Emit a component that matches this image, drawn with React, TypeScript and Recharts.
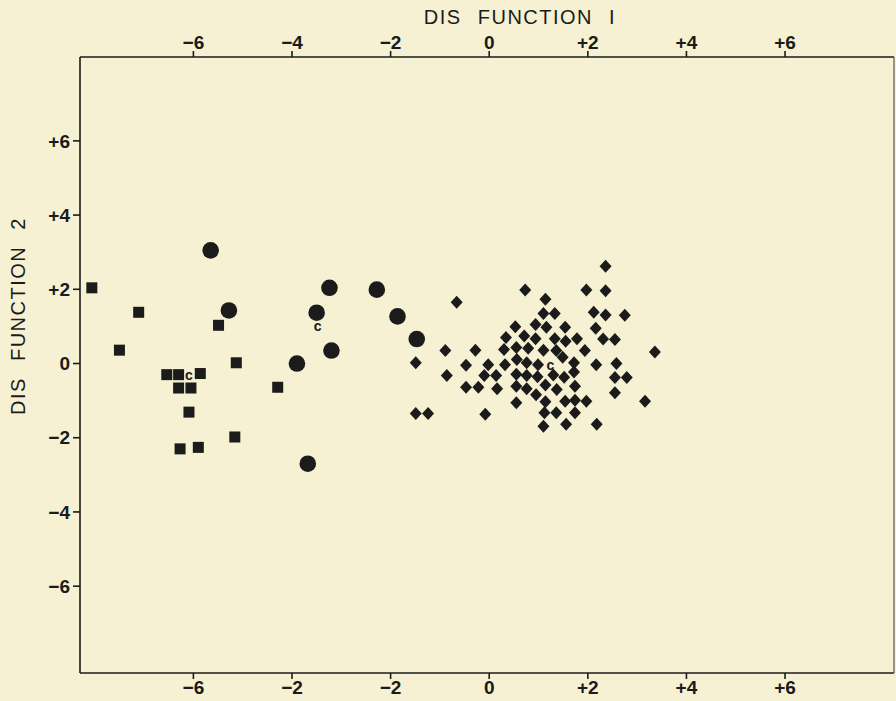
import { ScatterChart, Scatter, XAxis, YAxis } from 'recharts';

// group 1 (squares)
const squarePoints = [
  { x: -8.06, y: 2.04 },
  { x: -7.11, y: 1.38 },
  { x: -7.5, y: 0.36 },
  { x: -5.49, y: 1.03 },
  { x: -5.13, y: 0.02 },
  { x: -6.54, y: -0.3 },
  { x: -6.3, y: -0.3 },
  { x: -5.86, y: -0.27 },
  { x: -6.3, y: -0.66 },
  { x: -6.05, y: -0.66 },
  { x: -6.09, y: -1.31 },
  { x: -6.27, y: -2.3 },
  { x: -5.9, y: -2.26 },
  { x: -5.16, y: -1.98 },
  { x: -4.29, y: -0.64 },
];

// group 2 (circles)
const circlePoints = [
  { x: -5.65, y: 3.05 },
  { x: -5.28, y: 1.43 },
  { x: -3.24, y: 2.04 },
  { x: -3.5, y: 1.37 },
  { x: -3.2, y: 0.35 },
  { x: -3.9, y: 0.0 },
  { x: -3.68, y: -2.7 },
  { x: -2.28, y: 1.99 },
  { x: -1.86, y: 1.27 },
  { x: -1.47, y: 0.66 },
];

// group 3 (diamonds)
const diamondPoints = [
  { x: 2.36, y: 2.62 },
  { x: 0.73, y: 1.98 },
  { x: 1.97, y: 1.98 },
  { x: 2.36, y: 1.96 },
  { x: 1.14, y: 1.73 },
  { x: -0.66, y: 1.65 },
  { x: 1.1, y: 1.35 },
  { x: 1.33, y: 1.35 },
  { x: 2.12, y: 1.38 },
  { x: 2.36, y: 1.31 },
  { x: 2.75, y: 1.3 },
  { x: 0.94, y: 1.05 },
  { x: 0.53, y: 0.99 },
  { x: 1.16, y: 0.98 },
  { x: 1.54, y: 0.98 },
  { x: 2.16, y: 0.95 },
  { x: 0.71, y: 0.74 },
  { x: 0.34, y: 0.7 },
  { x: 0.94, y: 0.67 },
  { x: 1.33, y: 0.67 },
  { x: 1.55, y: 0.6 },
  { x: 1.78, y: 0.67 },
  { x: 2.31, y: 0.66 },
  { x: 2.55, y: 0.65 },
  { x: 0.55, y: 0.43 },
  { x: 0.79, y: 0.41 },
  { x: 1.1, y: 0.36 },
  { x: 1.36, y: 0.35 },
  { x: 0.3, y: 0.38 },
  { x: 1.94, y: 0.35 },
  { x: -0.89, y: 0.35 },
  { x: -0.28, y: 0.36 },
  { x: 3.36, y: 0.31 },
  { x: -1.49, y: 0.02 },
  { x: -0.47, y: -0.05 },
  { x: -0.02, y: -0.03 },
  { x: 0.32, y: -0.03 },
  { x: 0.56, y: 0.11 },
  { x: 0.76, y: 0.02 },
  { x: 0.99, y: -0.03 },
  { x: 1.49, y: 0.17 },
  { x: 1.72, y: 0.02 },
  { x: 2.17, y: -0.03 },
  { x: 2.58, y: 0.0 },
  { x: -0.86, y: -0.32 },
  { x: -0.1, y: -0.32 },
  { x: 0.14, y: -0.32 },
  { x: 0.55, y: -0.29 },
  { x: 0.76, y: -0.32 },
  { x: 0.98, y: -0.36 },
  { x: 1.3, y: -0.31 },
  { x: 1.52, y: -0.37 },
  { x: 1.72, y: -0.23 },
  { x: 2.55, y: -0.38 },
  { x: 2.79, y: -0.38 },
  { x: -0.47, y: -0.64 },
  { x: -0.22, y: -0.64 },
  { x: 0.16, y: -0.68 },
  { x: 0.55, y: -0.61 },
  { x: 0.76, y: -0.68 },
  { x: 1.14, y: -0.58 },
  { x: 1.37, y: -0.7 },
  { x: 1.74, y: -0.61 },
  { x: 2.55, y: -0.79 },
  { x: 0.95, y: -0.84 },
  { x: 0.55, y: -1.06 },
  { x: 1.14, y: -1.03 },
  { x: 1.54, y: -1.02 },
  { x: 1.74, y: -0.99 },
  { x: 1.97, y: -1.02 },
  { x: 3.16, y: -1.02 },
  { x: -1.49, y: -1.35 },
  { x: -1.24, y: -1.35 },
  { x: -0.08, y: -1.37 },
  { x: 1.12, y: -1.33 },
  { x: 1.36, y: -1.33 },
  { x: 1.74, y: -1.33 },
  { x: 1.1, y: -1.69 },
  { x: 1.56, y: -1.64 },
  { x: 2.18, y: -1.64 },
];

// group centroids, marked "c"
const centroids = [
  { x: -6.09, y: -0.3 },
  { x: -3.48, y: 1.02 },
  { x: 1.24, y: -0.03 },
];

const axisTicks = [-6, -4, -2, 0, 2, 4, 6];
// the printed bottom scale really reads -6, -2, -2 ...
const bottomTickLabels = ['\u22126', '\u22122', '\u22122', '0', '+2', '+4', '+6'];

const xDomain = [-8.3, 8.21];
const yDomain = [-8.34, 8.26];

const ink = '#1b1b1b';
const paper = '#f6f1d2';
const font = '"Liberation Sans", Arial, sans-serif';

function signed(v: number): string {
  if (v > 0) return `+${v}`;
  if (v < 0) return `\u2212${Math.abs(v)}`;
  return '0';
}

const tickStyle = { fill: ink, fontSize: 19, fontWeight: 700, fontFamily: font };

function SquareMark(props: any) {
  const { cx, cy } = props;
  return <rect x={cx - 5.5} y={cy - 5.5} width={11} height={11} fill={ink} />;
}

function CircleMark(props: any) {
  const { cx, cy } = props;
  return <circle cx={cx} cy={cy} r={8.3} fill={ink} />;
}

function DiamondMark(props: any) {
  const { cx, cy } = props;
  const w = 6;
  const h = 6.5;
  return <polygon points={`${cx},${cy - h} ${cx + w},${cy} ${cx},${cy + h} ${cx - w},${cy}`} fill={ink} />;
}

function CentroidMark(props: any) {
  const { cx, cy } = props;
  return (
    <text x={cx} y={cy + 5} textAnchor="middle" fontSize={14} fontWeight={700} fontFamily={font} fill={ink}>
      c
    </text>
  );
}

const titleStyle = {
  position: 'absolute' as const,
  fontFamily: font,
  fontSize: 20,
  lineHeight: '20px',
  letterSpacing: 1.5,
  wordSpacing: 9,
  color: ink,
  textAlign: 'center' as const,
  whiteSpace: 'pre' as const,
};

export default function App() {
  return (
    <div style={{ position: 'absolute', left: 0, top: 0, width: 896, height: 701, background: paper, overflow: 'hidden' }}>
      <div style={{ ...titleStyle, left: 370, top: 7, width: 300 }}>DIS FUNCTION I</div>
      <div style={{ ...titleStyle, left: -92, top: 306, width: 220, transform: 'rotate(-90deg)' }}>DIS FUNCTION 2</div>
      <ScatterChart width={896} height={701} margin={{ top: 0, right: 0, bottom: 0, left: 0 }}>
        <XAxis
          xAxisId="top"
          orientation="top"
          type="number"
          dataKey="x"
          domain={xDomain}
          allowDataOverflow
          ticks={axisTicks}
          tickFormatter={signed}
          height={57}
          tickSize={6}
          tickMargin={2}
          tick={tickStyle}
          stroke={ink}
          strokeWidth={1.6}
        />
        <XAxis
          xAxisId="bottom"
          orientation="bottom"
          type="number"
          dataKey="x"
          domain={xDomain}
          allowDataOverflow
          ticks={axisTicks}
          tickFormatter={(_v: number, i: number) => bottomTickLabels[i]}
          height={28}
          tickSize={6}
          tickMargin={2}
          tick={tickStyle}
          stroke={ink}
          strokeWidth={1.6}
        />
        <YAxis
          yAxisId="left"
          orientation="left"
          type="number"
          dataKey="y"
          domain={yDomain}
          allowDataOverflow
          ticks={axisTicks}
          tickFormatter={signed}
          width={80}
          tickSize={7}
          tickMargin={3}
          tick={tickStyle}
          stroke={ink}
          strokeWidth={1.6}
        />
        <YAxis
          yAxisId="right"
          orientation="right"
          type="number"
          dataKey="y"
          domain={yDomain}
          allowDataOverflow
          width={2}
          tick={false}
          tickLine={false}
          stroke="#555"
          strokeWidth={1.2}
        />
        <Scatter data={squarePoints} xAxisId="bottom" yAxisId="left" shape={SquareMark} isAnimationActive={false} />
        <Scatter data={circlePoints} xAxisId="bottom" yAxisId="left" shape={CircleMark} isAnimationActive={false} />
        <Scatter data={diamondPoints} xAxisId="top" yAxisId="left" shape={DiamondMark} isAnimationActive={false} />
        <Scatter data={centroids} xAxisId="top" yAxisId="right" shape={CentroidMark} isAnimationActive={false} />
      </ScatterChart>
    </div>
  );
}
